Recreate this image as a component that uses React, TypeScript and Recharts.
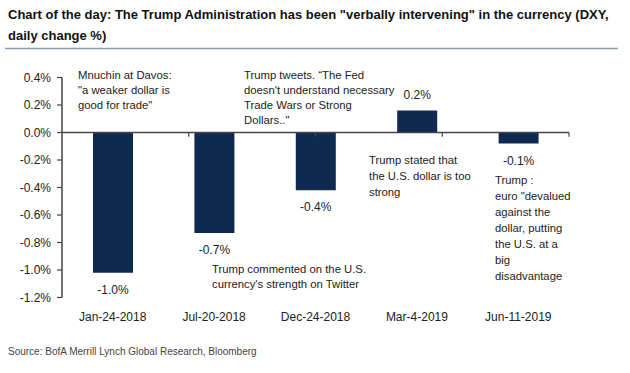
import React from 'react';
import { BarChart, Bar, XAxis, YAxis, ReferenceLine, LabelList } from 'recharts';

const categories = ['Jan-24-2018', 'Jul-20-2018', 'Dec-24-2018', 'Mar-4-2019', 'Jun-11-2019'];
const dxyChange = [-1.02, -0.73, -0.42, 0.16, -0.08];
const yTicks = [0.4, 0.2, 0, -0.2, -0.4, -0.6, -0.8, -1.0, -1.2];
const categoryBoundaries = [1, 2, 3, 4, 5];

const titleLines = [
  'Chart of the day: The Trump Administration has been "verbally intervening" in the currency (DXY,',
  'daily change %)',
];
const sourceText = 'Source: BofA Merrill Lynch Global Research, Bloomberg';

const annotationTexts = [
  ['Mnuchin at Davos:', '"a weaker dollar is', 'good for trade"'],
  ['Trump tweets. \u201CThe Fed', "doesn't understand necessary", 'Trade Wars or Strong', 'Dollars.."'],
  ["Trump commented on the U.S.", "currency's strength on Twitter"],
  ['Trump stated that', 'the U.S. dollar is too', 'strong'],
  ['Trump :', 'euro "devalued', 'against the', 'dollar, putting', 'the U.S. at a', 'big', 'disadvantage'],
];

const annotationLayout = [
  { x: 78, y: 78.5, lh: 15 },
  { x: 244, y: 78.5, lh: 15 },
  { x: 212, y: 272.5, lh: 15 },
  { x: 369, y: 164, lh: 16 },
  { x: 495, y: 184, lh: 16 },
];

const data = categories.map((c, i) => ({ category: c, value: dxyChange[i] }));

const FONT = '"Liberation Sans", Arial, sans-serif';
const BAR = '#0f2a52';
const AXIS = '#444444';

const fmt = (v: number) => (Math.round(v * 10) / 10).toFixed(1) + '%';

const ValueLabel = (props: any) => {
  const { x, y, width, height, value } = props;
  const top = Math.min(y, y + height);
  const bottom = Math.max(y, y + height);
  const cx = x + width / 2;
  const ty = value < 0 ? bottom + 21 : top - 12;
  return (
    <text x={cx} y={ty} textAnchor="middle" fontSize={12} fill="#222" fontFamily={FONT}>
      {fmt(value)}
    </text>
  );
};

export default function App() {
  return (
    <div style={{ position: 'absolute', top: 0, left: 0, width: 630, height: 373, background: '#fff' }}>
      <BarChart
        width={630}
        height={373}
        data={data}
        margin={{ top: 77.5, right: 61, left: 0, bottom: 45.5 }}
        style={{ fontFamily: FONT }}
      >
        <XAxis
          dataKey="category"
          axisLine={false}
          tickLine={false}
          height={30}
          interval={0}
          tickMargin={9}
          tick={{ fontSize: 12, fill: '#222', fontFamily: FONT }}
        />
        <XAxis xAxisId="b" type="number" domain={[0, 5]} hide />
        <YAxis
          width={62}
          domain={[-1.2, 0.4]}
          ticks={yTicks}
          interval={0}
          tickSize={5}
          tickMargin={6}
          tickFormatter={(v: number) => v.toFixed(1) + '%'}
          axisLine={{ stroke: AXIS, strokeWidth: 1.5 }}
          tickLine={{ stroke: AXIS, strokeWidth: 1.2 }}
          tick={{ fontSize: 12, fill: '#222', fontFamily: FONT }}
        />
        <Bar dataKey="value" fill={BAR} barSize={40} isAnimationActive={false}>
          <LabelList dataKey="value" content={ValueLabel} />
        </Bar>
        <ReferenceLine y={0} stroke={AXIS} strokeWidth={1.5} />
        {categoryBoundaries.map((b) => (
          <ReferenceLine
            key={b}
            xAxisId="b"
            segment={[{ x: b, y: 0 }, { x: b, y: -0.03 }]}
            stroke={AXIS}
            strokeWidth={1.2}
            ifOverflow="visible"
          />
        ))}
      </BarChart>
      <svg
        width={630}
        height={373}
        style={{ position: 'absolute', top: 0, left: 0, pointerEvents: 'none' }}
        fontFamily={FONT}
      >
        {titleLines.map((t, i) => (
          <text key={i} x={8} y={19 + i * 21} fontSize={13} fontWeight="bold" fill="#111">
            {t}
          </text>
        ))}
        <line x1={5} x2={618} y1={48.5} y2={48.5} stroke="#8c9cb0" strokeWidth={1.5} />
        {annotationTexts.map((lines, i) => (
          <text key={i} fontSize={11.3} fill="#222">
            {lines.map((l, j) => (
              <tspan key={j} x={annotationLayout[i].x} y={annotationLayout[i].y + j * annotationLayout[i].lh}>
                {l}
              </tspan>
            ))}
          </text>
        ))}
        <text x={8} y={355} fontSize={10} fill="#444">
          {sourceText}
        </text>
      </svg>
    </div>
  );
}
